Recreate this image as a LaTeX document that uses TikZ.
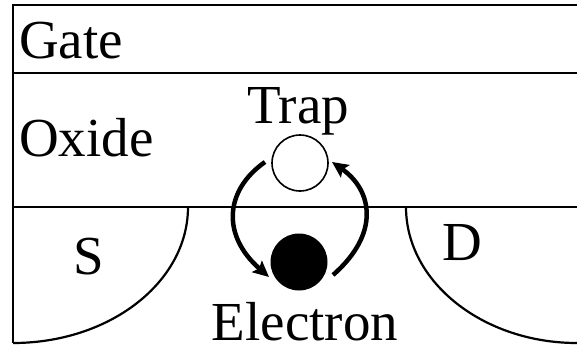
\documentclass[tikz,border=0pt]{standalone}
\usepackage{fontspec}
\setmainfont{Liberation Serif}
\usepackage{tikz}
\usetikzlibrary{positioning}
\usetikzlibrary{arrows.meta}
\usetikzlibrary{calc}

\begin{document}
\begin{tikzpicture} [x = 1pt, y = -1pt,
    word/.style = {font = \fontsize{55}{60}\selectfont, inner sep = 0pt},
    hop/.style = {line width = 4.5pt, -{Stealth[length = 16pt, width = 15pt, inset = 3pt]}}]
    \useasboundingbox (0,0) rectangle (577,348);
    \draw [line width = 2.2pt] (13,5)--(577,5);
    \draw [line width = 2.6pt] (13,73)--(577,73);
    \draw [line width = 2pt] (13,207)--(577,207);
    \draw [line width = 2.6pt] (13,4)--(13,343);
    \draw [line width = 2.2pt] (188,207) .. controls (188,282) and (110,343) .. (13,343);
    \draw [line width = 2.2pt] (406,207) .. controls (406,282) and (483,343) .. (577,343);
    \node [word, anchor = base west] (gate) at (19,58) {Gate};
    \node [word, anchor = base west] (oxide) at (19,156) {Oxide};
    \node [word, anchor = base] (source) at (89,274) {S};
    \node [word, anchor = base] (drain) at (462,260) {D};
    \node [word, anchor = base] (traplabel) at (298,123) {Trap};
    \node [word, anchor = base] (electronlabel) at (305,340) {Electron};
    \node [draw, circle, line width = 1.6pt, minimum size = 56pt, inner sep = 0pt] (trap) at (300,163) {};
    \node [fill, circle, minimum size = 57pt, inner sep = 0pt] (electron) at (299,262) {};
    \draw [hop] ($(trap)+(-35,-1)$) .. controls +(-40,28) and +(-48,-42) .. ($(electron)+(-30,15)$);
    \draw [hop] ($(electron)+(34,13)$) .. controls +(48,-42) and +(40,28) .. ($(trap)+(32,-1)$);
  \end{tikzpicture}
\end{document}
